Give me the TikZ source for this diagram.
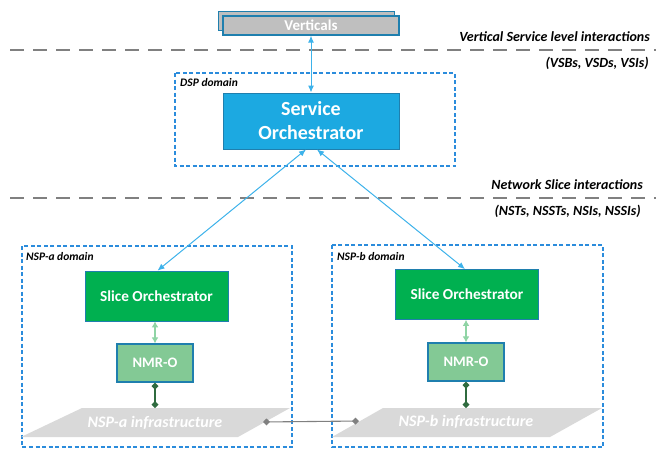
\documentclass[tikz,border=0pt]{standalone}
\usepackage{fontspec}
\setmainfont{Carlito}
\usetikzlibrary{arrows.meta}
\definecolor{soblue}{HTML}{1CA9E1}
\definecolor{edgeblue}{HTML}{1F7FAE}
\definecolor{domblue}{HTML}{2B8CDC}
\definecolor{slgreen}{HTML}{00B050}
\definecolor{nmrgreen}{HTML}{83C995}
\definecolor{lgreen}{HTML}{8FD4A5}
\definecolor{dgreen}{HTML}{2F6B3F}
\definecolor{vgray}{HTML}{BFBFBF}
\definecolor{sepgray}{HTML}{808080}
\definecolor{infragray}{HTML}{D9D9D9}
\definecolor{arrblue}{HTML}{3DB2EA}
\tikzset{
  vbox/.style={draw=edgeblue, line width=1.3pt, fill=vgray, text=white, font=\bfseries\fontsize{15}{17}\selectfont, minimum width=176pt, minimum height=19pt, inner sep=0pt},
  sobox/.style={draw=edgeblue, line width=1pt, fill=soblue, text=white, font=\bfseries\fontsize{20}{24}\selectfont, align=center, minimum width=176pt, minimum height=56pt, inner sep=0pt},
  slbox/.style={draw=edgeblue, line width=0.8pt, fill=slgreen, text=white, font=\bfseries\fontsize{15.3}{18}\selectfont, minimum width=143pt, minimum height=50pt, inner sep=0pt},
  nmrbox/.style={draw=edgeblue, line width=1.3pt, fill=nmrgreen, text=white, font=\bfseries\fontsize{14.5}{17}\selectfont, minimum width=76pt, minimum height=38pt, inner sep=0pt},
  dombox/.style={draw=domblue, line width=1.3pt, dash pattern=on 4pt off 2.5pt},
  domlabel/.style={font=\bfseries\itshape\fontsize{11.5}{13}\selectfont, anchor=west, inner sep=0pt},
  sepline/.style={draw=sepgray, line width=2.8pt, dash pattern=on 14pt off 9pt},
  seplabel/.style={font=\bfseries\itshape\fontsize{14}{16}\selectfont, anchor=east, inner sep=0pt},
  bluearrow/.style={draw=arrblue, line width=1pt, {Latex[length=7pt,width=6pt]}-{Latex[length=7pt,width=6pt]}},
  greenarrow/.style={draw=lgreen, line width=1.3pt, {Latex[length=6pt,width=7pt]}-{Latex[length=6pt,width=7pt]}},
  dlink/.style={draw=dgreen, line width=1.4pt, {Diamond[length=7pt,width=7pt]}-{Diamond[length=7pt,width=7pt]}},
  glink/.style={draw=sepgray, line width=1.1pt, {Diamond[length=7pt,width=7pt]}-{Diamond[length=7pt,width=7pt]}},
  infrafill/.style={fill=infragray},
  infralabel/.style={text=white, font=\bfseries\itshape\fontsize{16}{19}\selectfont, inner sep=0pt}
}
\begin{document}
\begin{tikzpicture}[x=1pt,y=-1pt]
\useasboundingbox (0,0) rectangle (659,448);
% separators
\draw[sepline] (10,50) -- (656,50);
\draw[sepline] (10,198) -- (656,198);
\node[seplabel] (l1) at (650,37) {Vertical Service level interactions};
\node[seplabel] (l2) at (649,63) {(VSBs, VSDs, VSIs)};
\node[seplabel] (l3) at (643,185) {Network Slice interactions};
\node[seplabel] (l4) at (641,211) {(NSTs, NSSTs, NSIs, NSSIs)};
% domains
\draw[dombox] (175,73) rectangle (455,166);
\node[domlabel] (dspl) at (180,83) {DSP domain};
\draw[dombox] (22,246) rectangle (292,447);
\node[domlabel] (nspal) at (26,257) {NSP-a domain};
\draw[dombox] (332,245) rectangle (603,447);
\node[domlabel] (nspbl) at (337,257) {NSP-b domain};
% verticals
\node[vbox] (vback) at (306.5,21) {};
\node[vbox] (vert) at (311,25.5) {Verticals};
% service orchestrator
\node[sobox] (so) at (311,121) {Service\\Orchestrator};
% slice orchestrators
\node[slbox] (sla) at (156.5,296) {Slice Orchestrator};
\node[slbox] (slb) at (467,294.5) {Slice Orchestrator};
% NMR-O
\node[nmrbox] (nmra) at (155,363) {NMR-O};
\node[nmrbox] (nmrb) at (466,362) {NMR-O};
% infrastructures
\fill[infrafill] (21,437) -- (82,408) -- (290,408) -- (238,437) -- cycle;
\fill[infrafill] (332,437) -- (383,408) -- (602,408) -- (550,437) -- cycle;
\node[infralabel] (infa) at (155,423) {NSP-a infrastructure};
\node[infralabel] (infb) at (466,422) {NSP-b infrastructure};
\coordinate (infatop) at (155,408);
\coordinate (infbtop) at (466,408);
\coordinate (infaright) at (263,422);
\coordinate (infbleft) at (359,421);
% connectors
\draw[bluearrow] (vert.south) -- (so.north);
\draw[bluearrow] ([xshift=-5pt]so.south) -- ([xshift=1pt]sla.north);
\draw[bluearrow] ([xshift=6pt]so.south) -- ([xshift=-2pt]slb.north);
\draw[greenarrow] ([xshift=-1.5pt]sla.south) -- (nmra.north);
\draw[greenarrow] ([xshift=-1pt]slb.south) -- (nmrb.north);
\draw[dlink] (nmra.south) -- (infatop);
\draw[dlink] (nmrb.south) -- (infbtop);
\draw[glink] (infaright) -- (infbleft);
\end{tikzpicture}
\end{document}
